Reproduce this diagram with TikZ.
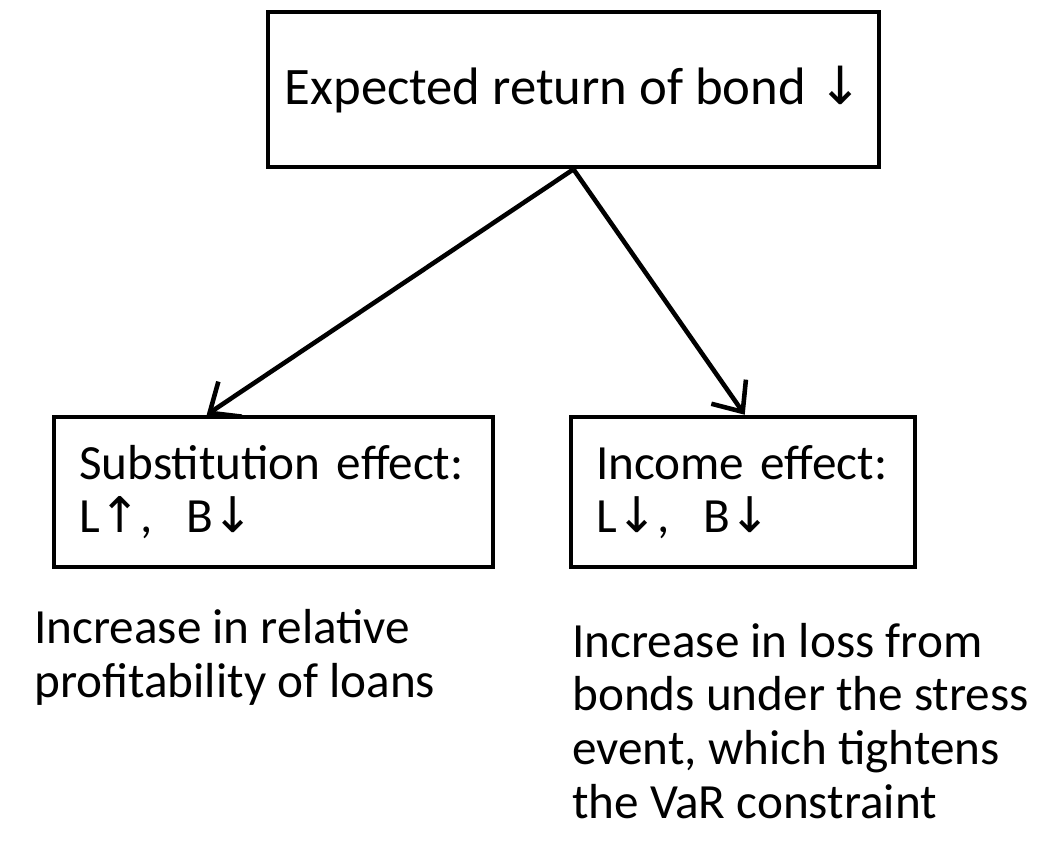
\documentclass[tikz,border=0pt]{standalone}
\usepackage{fontspec}
\setmainfont{Carlito}
\newfontfamily\arrowfont{DejaVu Sans}
\newcommand{\arrdn}{{\arrowfont ↓}}
\newcommand{\arrup}{{\arrowfont ↑}}
\usetikzlibrary{arrows.meta}
\begin{document}
\begin{tikzpicture}[x=0.02cm,y=-0.02cm,line width=2.6pt,
    >={Straight Barb[length=14pt,width=24pt]},
    font=\fontsize{28}{30.5}\selectfont,
    effectbox/.style={draw,align=left,inner xsep=0.5cm,minimum height=3.0cm},
    note/.style={anchor=base west,align=left,inner sep=0pt}]
  \useasboundingbox (0,0) rectangle (1037,843);
  % cause at the top
  \node[draw,minimum width=12.22cm,minimum height=3.1cm,font=\fontsize{30}{34}\selectfont] (bond) at (573.5,89.5)
    {Expected return of bond \arrdn};
  % the two effects
  \node[effectbox,text width=7.78cm] (subst) at (273.5,492)
    {Substitution effect:\\ L\arrup,\ \ B\arrdn};
  \node[effectbox,text width=5.88cm] (income) at (743,492)
    {Income effect:\\ L\arrdn,\ \ B\arrdn};
  \draw[->] (bond.south) -- ([xshift=3.1cm]subst.north west);
  \draw[->] (bond.south) -- ([xshift=3.52cm]income.north west);
  % explanations (base = last line)
  \node[note] (substnote) at (32,697) {Increase in relative\\ profitability of loans};
  \node[note] (incomenote) at (570,818) {Increase in loss from\\ bonds under the stress\\
    event, which tightens\\ the VaR constraint};
\end{tikzpicture}
\end{document}
